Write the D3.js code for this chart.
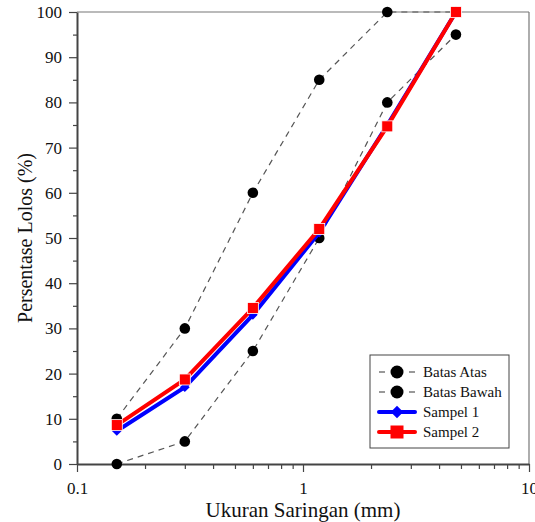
<!DOCTYPE html>
<html>
<head>
<meta charset="utf-8">
<script src="https://cdn.jsdelivr.net/npm/d3@7"></script>
<style>
body { margin: 0; background: #fff; }
text { font-family: "Liberation Serif", "Times New Roman", serif; }
</style>
</head>
<body>
<svg id="chart" width="535" height="522"></svg>
<script>
// sieve sizes (mm)
var ukuran = [0.15, 0.3, 0.6, 1.18, 2.36, 4.75];
var batasAtas = [10, 30, 60, 85, 100, 100];
var batasBawah = [0, 5, 25, 50, 80, 95];
var sampel1 = [7.3, 17, 33, 51.2, 75, 100];
var sampel2 = [8.6, 18.7, 34.5, 52, 74.7, 100];
var yTicks = [0, 10, 20, 30, 40, 50, 60, 70, 80, 90, 100];
var xTicks = [0.1, 1, 10];

var margin = {left: 77, top: 12, right: 6, bottom: 58};
var width = 535 - margin.left - margin.right;
var height = 522 - margin.top - margin.bottom;

var svg = d3.select("#chart");
var g = svg.append("g").attr("transform", "translate(" + margin.left + "," + margin.top + ")");

var x = d3.scaleLog().domain([0.1, 10]).range([0, width]);
var y = d3.scaleLinear().domain([0, 100]).range([height, 0]);

// frame (top and right)
g.append("line").attr("x1", 0).attr("x2", width).attr("y1", 0).attr("y2", 0)
    .attr("stroke", "#777").attr("stroke-width", 1.2);
g.append("line").attr("x1", width).attr("x2", width).attr("y1", 0).attr("y2", height)
    .attr("stroke", "#777").attr("stroke-width", 1.2);

// minor ticks
var minorX = [];
[0.1, 1].forEach(function (d) {
    for (var k = 2; k <= 9; k++) minorX.push(d * k);
});
g.append("g").attr("transform", "translate(0," + height + ")")
    .call(d3.axisBottom(x).tickValues(minorX).tickSize(5).tickFormat(""))
    .call(function (a) { a.select(".domain").remove(); a.selectAll("line").attr("stroke", "#444").attr("stroke-width", 1.2); });
var minorY = d3.range(5, 100, 10);
g.append("g")
    .call(d3.axisLeft(y).tickValues(minorY).tickSize(4).tickFormat(""))
    .call(function (a) { a.select(".domain").remove(); a.selectAll("line").attr("stroke", "#444").attr("stroke-width", 1.2); });

// main axes
var xAxis = g.append("g").attr("transform", "translate(0," + height + ")")
    .call(d3.axisBottom(x).tickValues(xTicks).tickSize(8).tickSizeOuter(0).tickPadding(10).tickFormat(d3.format("")));
var yAxis = g.append("g")
    .call(d3.axisLeft(y).tickValues(yTicks).tickSize(8).tickSizeOuter(0).tickPadding(7));
[xAxis, yAxis].forEach(function (a) {
    a.select(".domain").attr("stroke", "#444").attr("stroke-width", 2);
    a.selectAll(".tick line").attr("stroke", "#444").attr("stroke-width", 1.2);
    a.selectAll("text").attr("font-size", 17).attr("fill", "#111")
        .attr("font-family", "Liberation Serif");
});

// axis titles
svg.append("text").attr("x", margin.left + x(1)).attr("y", 517)
    .attr("text-anchor", "middle").attr("font-size", 21).attr("fill", "#111")
    .text("Ukuran Saringan (mm)");
svg.append("text").attr("transform", "translate(32," + (margin.top + height / 2) + ") rotate(-90)")
    .attr("text-anchor", "middle").attr("font-size", 20).attr("fill", "#111")
    .text("Persentase Lolos (%)");

var line = d3.line()
    .x(function (d) { return x(d[0]); })
    .y(function (d) { return y(d[1]); });

function pairs(vals) {
    return ukuran.map(function (u, i) { return [u, vals[i]]; });
}

// limit lines
[batasAtas, batasBawah].forEach(function (s) {
    g.append("path").datum(pairs(s)).attr("d", line)
        .attr("fill", "none").attr("stroke", "#555").attr("stroke-width", 1.2)
        .attr("stroke-dasharray", "6,5");
});
[batasAtas, batasBawah].forEach(function (s) {
    g.selectAll(null).data(pairs(s)).enter().append("circle")
        .attr("cx", function (d) { return x(d[0]); })
        .attr("cy", function (d) { return y(d[1]); })
        .attr("r", 5.3).attr("fill", "#000");
});

// sample 1
g.append("path").datum(pairs(sampel1)).attr("d", line)
    .attr("fill", "none").attr("stroke", "#0000ff").attr("stroke-width", 4);
var diamond = d3.symbol().type(d3.symbolDiamond2).size(60);
g.selectAll(null).data(pairs(sampel1)).enter().append("path")
    .attr("d", diamond)
    .attr("transform", function (d) { return "translate(" + x(d[0]) + "," + y(d[1]) + ")"; })
    .attr("fill", "#0000ff");

// sample 2
g.append("path").datum(pairs(sampel2)).attr("d", line)
    .attr("fill", "none").attr("stroke", "#ff0000").attr("stroke-width", 4);
g.selectAll(null).data(pairs(sampel2)).enter().append("rect")
    .attr("x", function (d) { return x(d[0]) - 5.5; })
    .attr("y", function (d) { return y(d[1]) - 5.5; })
    .attr("width", 11).attr("height", 11)
    .attr("fill", "#ff0000").attr("stroke", "#fff").attr("stroke-width", 0.8);

// legend
var leg = svg.append("g").attr("transform", "translate(370,355)");
leg.append("rect").attr("width", 139).attr("height", 93)
    .attr("fill", "#fff").attr("stroke", "#444").attr("stroke-width", 1);
var items = [
    {name: "Batas Atas", type: "circle"},
    {name: "Batas Bawah", type: "circle"},
    {name: "Sampel 1", type: "diamond"},
    {name: "Sampel 2", type: "square"}
];
items.forEach(function (it, i) {
    var yy = 17 + i * 20;
    var row = leg.append("g").attr("transform", "translate(0," + yy + ")");
    if (it.type === "circle") {
        row.append("line").attr("x1", 9).attr("x2", 15).attr("y1", 0).attr("y2", 0)
            .attr("stroke", "#555").attr("stroke-width", 1.2);
        row.append("line").attr("x1", 39).attr("x2", 45).attr("y1", 0).attr("y2", 0)
            .attr("stroke", "#555").attr("stroke-width", 1.2);
        row.append("circle").attr("cx", 27).attr("cy", 0).attr("r", 6.5).attr("fill", "#000");
    } else if (it.type === "diamond") {
        row.append("line").attr("x1", 9).attr("x2", 45).attr("y1", 0).attr("y2", 0)
            .attr("stroke", "#0000ff").attr("stroke-width", 4).attr("stroke-linecap", "round");
        row.append("path").attr("d", d3.symbol().type(d3.symbolDiamond2).size(100))
            .attr("transform", "translate(27,0)").attr("fill", "#0000ff");
    } else {
        row.append("line").attr("x1", 9).attr("x2", 45).attr("y1", 0).attr("y2", 0)
            .attr("stroke", "#ff0000").attr("stroke-width", 4).attr("stroke-linecap", "round");
        row.append("rect").attr("x", 20.5).attr("y", -6.5).attr("width", 13).attr("height", 13)
            .attr("fill", "#ff0000");
    }
    row.append("text").attr("x", 53).attr("y", 5).attr("font-size", 15).attr("fill", "#111")
        .text(it.name);
});
</script>
</body>
</html>
